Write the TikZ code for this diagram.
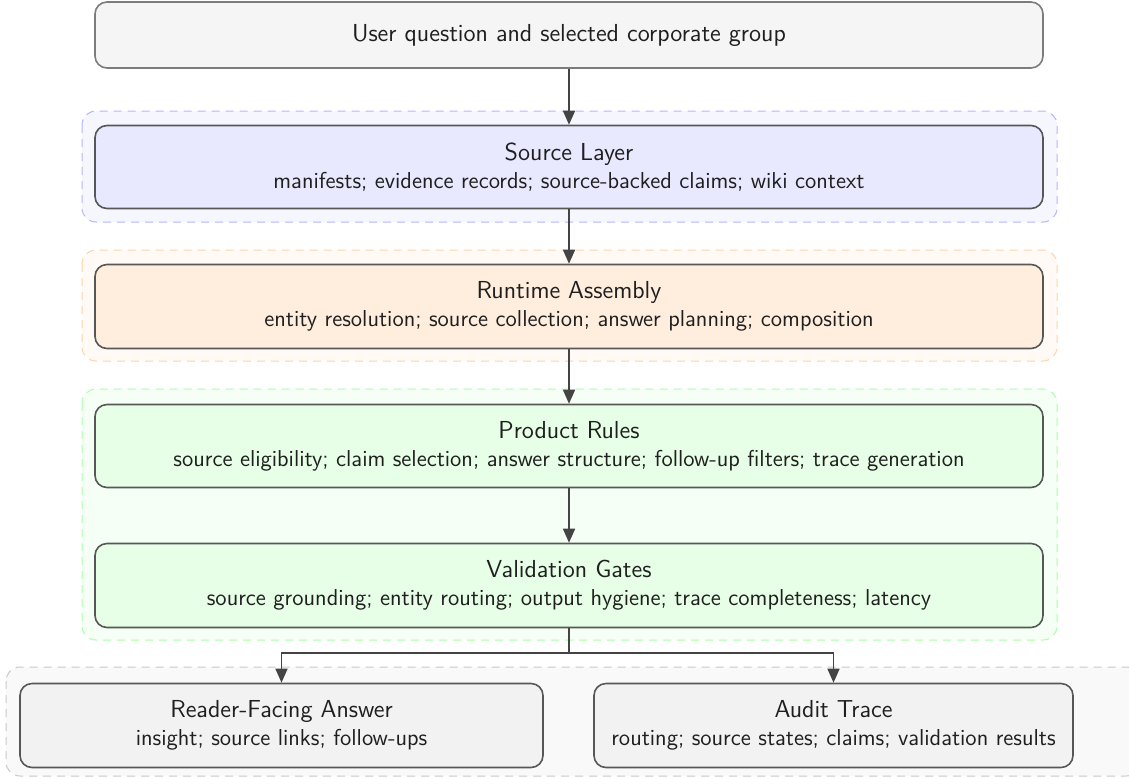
\documentclass[tikz,border=0pt]{standalone}
\usepackage{tikz}
\usetikzlibrary{arrows.meta}
\definecolor{qfill}{HTML}{F5F5F5}
\definecolor{srcfill}{HTML}{E8E8FF}
\definecolor{srcclu}{HTML}{F6F6FF}
\definecolor{srcdash}{HTML}{B4B4FF}
\definecolor{runfill}{HTML}{FFEEDD}
\definecolor{runclu}{HTML}{FFFAF5}
\definecolor{rundash}{HTML}{FFD3A8}
\definecolor{rulefill}{HTML}{E6FFE6}
\definecolor{ruleclu}{HTML}{F5FFF5}
\definecolor{ruledash}{HTML}{A8FFA8}
\definecolor{outfill}{HTML}{F2F2F2}
\definecolor{outclu}{HTML}{F9F9F9}
\definecolor{outdash}{HTML}{C8C8C8}
\definecolor{edge}{HTML}{444444}
\tikzset{
  stagebox/.style={rectangle,rounded corners=6pt,draw=edge!90,line width=0.8pt,
    align=center,font=\sffamily\fontsize{12.3}{13.5}\selectfont,text=black!88,inner sep=0pt},
  cluster/.style={rounded corners=7pt,dashed,dash pattern=on 4pt off 3pt,line width=0.5pt},
  flow/.style={-{Triangle[length=7pt,width=6pt]},draw=edge,line width=0.8pt}
}
\newcommand{\sub}[1]{\\[0.5pt]{\fontsize{11.5}{13.5}\selectfont #1}}
\begin{document}
\begin{tikzpicture}[x=0.5pt,y=-0.5pt]
	\useasboundingbox (0,0) rectangle (1129,778);
	% groups
	\draw[cluster,fill=srcclu,draw=srcdash] (82,111) rectangle (1057,222);
	\draw[cluster,fill=runclu,draw=rundash] (82,250) rectangle (1057,361);
	\draw[cluster,fill=ruleclu,draw=ruledash] (82,389) rectangle (1057,640);
	\draw[cluster,fill=outclu,draw=outdash] (6,667) rectangle (1140,776);
	% stages
	\path (569,35) node(q)[stagebox,fill=qfill,draw=edge!70,minimum width=474pt,minimum height=33pt]{User question and selected corporate group}
		(569,167) node(src)[stagebox,fill=srcfill,minimum width=474pt,minimum height=41.5pt]{Source Layer\sub{manifests; evidence records; source-backed claims; wiki context}}
		(569,306.5) node(run)[stagebox,fill=runfill,minimum width=474pt,minimum height=42pt]{Runtime Assembly\sub{entity resolution; source collection; answer planning; composition}}
		(569,446) node(rule)[stagebox,fill=rulefill,minimum width=474pt,minimum height=41.5pt]{Product Rules\sub{source eligibility; claim selection; answer structure; follow-up filters; trace generation}}
		(569,585.5) node(val)[stagebox,fill=rulefill,minimum width=474pt,minimum height=42pt]{Validation Gates\sub{source grounding; entity routing; output hygiene; trace completeness; latency}}
		(281.5,725.5) node(ans)[stagebox,fill=outfill,minimum width=261.5pt,minimum height=42pt]{Reader-Facing Answer\sub{insight; source links; follow-ups}}
		(833.5,725.5) node(aud)[stagebox,fill=outfill,minimum width=239.5pt,minimum height=42pt]{Audit Trace\sub{routing; source states; claims; validation results}};
	\coordinate (fork) at (569,653);
	\draw[flow] (q) -- (src);
	\draw[flow] (src) -- (run);
	\draw[flow] (run) -- (rule);
	\draw[flow] (rule) -- (val);
	\draw[edge,line width=0.8pt] (val) -- (fork);
	\draw[flow] (fork) -| (ans);
	\draw[flow] (fork) -| (aud);
\end{tikzpicture}
\end{document}
